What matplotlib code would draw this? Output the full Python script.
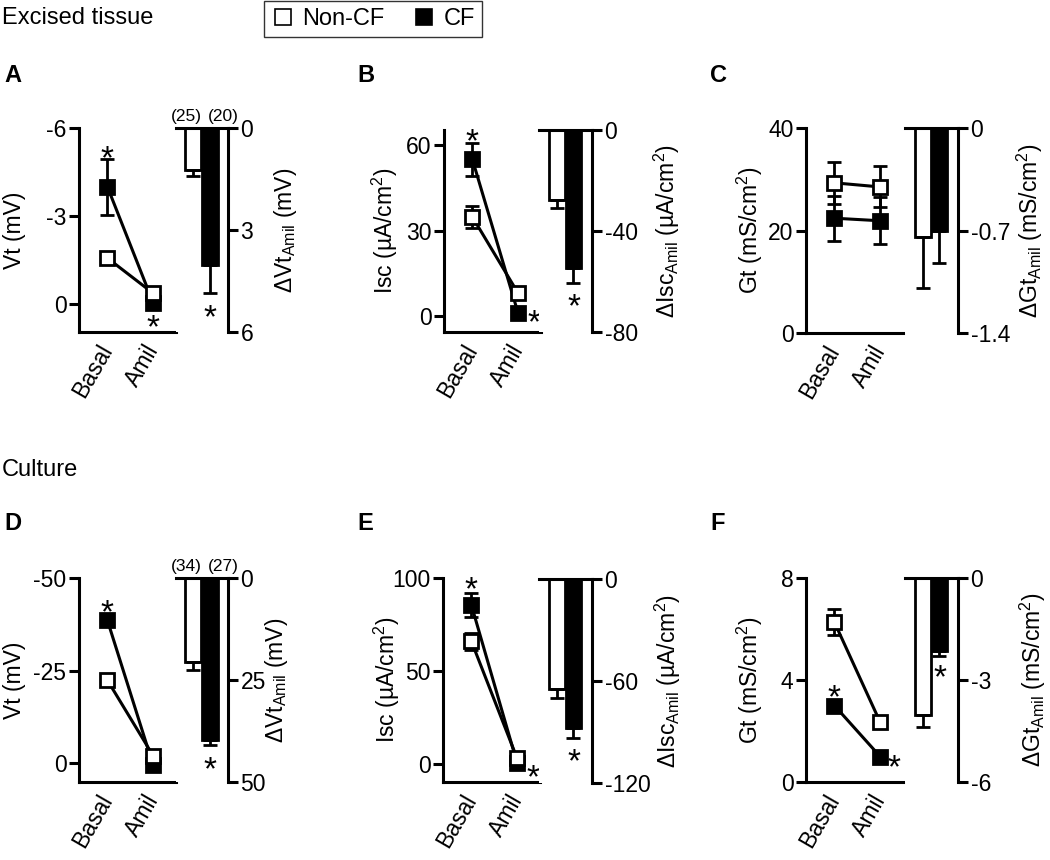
import matplotlib
matplotlib.use('Agg')
import matplotlib.pyplot as plt
from matplotlib.lines import Line2D
from matplotlib.transforms import ScaledTranslation

plt.rcParams['font.family'] = ['Liberation Sans', 'DejaVu Sans']
plt.rcParams['mathtext.default'] = 'regular'
plt.rcParams['axes.unicode_minus'] = False

conditions = ['Basal', 'Amil']
groups = ['Non-CF', 'CF']

# Excised tissue
vt_tissue_noncf = [-1.57, -0.37]
vt_tissue_noncf_err = [0.12, 0.08]
vt_tissue_cf = [-4.0, -0.05]
vt_tissue_cf_err = [0.95, 0.1]
dvt_tissue = [1.24, 4.03]
dvt_tissue_err = [0.17, 0.82]
n_tissue = ['(25)', '(20)']

isc_tissue_noncf = [34.8, 8.0]
isc_tissue_noncf_err = [3.9, 1.0]
isc_tissue_cf = [55.0, 1.0]
isc_tissue_cf_err = [5.7, 0.5]
disc_tissue = [-27.7, -54.7]
disc_tissue_err = [3.3, 5.8]

gt_tissue_noncf = [29.3, 28.5]
gt_tissue_noncf_err = [4.1, 4.0]
gt_tissue_cf = [22.4, 21.9]
gt_tissue_cf_err = [4.4, 4.6]
dgt_tissue = [-0.745, -0.703]
dgt_tissue_err = [0.345, 0.22]

# Culture
vt_culture_noncf = [-22.4, -2.0]
vt_culture_noncf_err = [1.0, 0.5]
vt_culture_cf = [-38.6, 0.5]
vt_culture_cf_err = [1.5, 0.5]
dvt_culture = [20.6, 39.7]
dvt_culture_err = [1.9, 1.3]
n_culture = ['(34)', '(27)']

isc_culture_noncf = [66.0, 3.0]
isc_culture_noncf_err = [4.5, 0.5]
isc_culture_cf = [85.5, 0.5]
isc_culture_cf_err = [6.5, 0.5]
disc_culture = [-64.7, -87.6]
disc_culture_err = [5.3, 5.9]

gt_culture_noncf = [6.27, 2.35]
gt_culture_noncf_err = [0.5, 0.1]
gt_culture_cf = [3.0, 1.0]
gt_culture_cf_err = [0.1, 0.05]
dgt_culture = [-4.03, -2.15]
dgt_culture_err = [0.35, 0.15]

W, H = 1050, 860
fig = plt.figure(figsize=(W / 100, H / 100), dpi=100)
FS = 16.5
LW = 2.2
STAR_FS = 24


def box(left, top, right, bottom):
    return [left / W, 1 - bottom / H, (right - left) / W, (bottom - top) / H]


def star(ax, x, y):
    # shift so the asterisk ink (not the text box) is centred on (x, y)
    shift = ScaledTranslation(0, -0.58 * STAR_FS / 72, fig.dpi_scale_trans)
    ax.text(x, y, '*', ha='center', va='baseline', fontsize=STAR_FS,
            transform=ax.transData + shift, clip_on=False)


def line_panel(rect, ylim, yticks, ylabel, labx, noncf, noncf_err, cf, cf_err, stars):
    ax = fig.add_axes(box(*rect))
    x = [0, 1]
    common = dict(color='black', lw=LW, marker='s', ms=10, mec='black', mew=2,
                  capsize=5, capthick=2, elinewidth=2)
    ax.errorbar(x, cf, yerr=cf_err, mfc='black', zorder=3, **common)
    ax.errorbar(x, noncf, yerr=noncf_err, mfc='white', zorder=4, **common)
    ax.set_xlim(-0.62, 1.5)
    ax.set_ylim(*ylim)
    ax.set_yticks(yticks)
    ax.set_yticklabels([str(t) for t in yticks])
    ax.set_xticks(x)
    ax.set_xticklabels(conditions, rotation=60, ha='right', va='center',
                       rotation_mode='anchor')
    for s in ['top', 'right']:
        ax.spines[s].set_visible(False)
    for s in ['left', 'bottom']:
        ax.spines[s].set_linewidth(LW)
    ax.tick_params(axis='y', direction='out', length=7, width=LW, labelsize=FS, pad=2)
    ax.tick_params(axis='x', length=0, labelsize=FS, pad=10)
    ax.set_ylabel(ylabel, fontsize=FS)
    ax.yaxis.label.set_verticalalignment('center')
    ax.yaxis.set_label_coords(labx, 0.5)
    for sx, sy in stars:
        star(ax, sx, sy)
    return ax


def bar_panel(rect, ylim, yticks, yticklabels, ylabel, labx, vals, errs, stars, counts=None):
    ax = fig.add_axes(box(*rect))
    x = [0, 1]
    ax.bar(x, vals, width=0.95, color=['white', 'black'], edgecolor='black', lw=2, zorder=2)
    lower = [e if v < 0 else 0 for v, e in zip(vals, errs)]
    upper = [e if v > 0 else 0 for v, e in zip(vals, errs)]
    ax.errorbar(x, vals, yerr=[lower, upper], fmt='none', ecolor='black',
                elinewidth=2, capsize=5, capthick=2, zorder=3)
    ax.set_xlim(-1.05, 2.1)
    ax.set_ylim(*ylim)
    ax.set_yticks(yticks)
    ax.set_yticklabels(yticklabels)
    ax.set_xticks([])
    ax.spines['left'].set_visible(False)
    ax.spines['bottom'].set_visible(False)
    ax.spines['top'].set_linewidth(LW)
    ax.spines['right'].set_linewidth(LW)
    ax.yaxis.tick_right()
    ax.yaxis.set_label_position('right')
    ax.tick_params(axis='y', direction='out', length=7, width=LW, labelsize=FS, pad=2)
    ax.set_ylabel(ylabel, fontsize=FS)
    ax.yaxis.label.set_verticalalignment('center')
    ax.yaxis.set_label_coords(labx, 0.5)
    for sx, sy in stars:
        star(ax, sx, sy)
    if counts:
        for cx, c in zip([-0.45, 1.8], counts):
            ax.text(cx, 1.02, c, transform=ax.get_xaxis_transform(), ha='center',
                    va='bottom', fontsize=12.5, clip_on=False)
    return ax


# Row 1: excised tissue
line_panel((79, 128, 176, 332), (0.95, -6), [-6, -3, 0], 'Vt (mV)', -0.66,
           vt_tissue_noncf, vt_tissue_noncf_err, vt_tissue_cf, vt_tissue_cf_err,
           [(0, -5.3), (1, 0.48)])
bar_panel((176, 128, 228, 332), (6, 0), [0, 3, 6], ['0', '3', '6'],
          'ΔVt$_{Amil}$ (mV)', 2.1, dvt_tissue, dvt_tissue_err, [(1, 5.3)], n_tissue)

line_panel((444, 130, 541, 332), (-5.6, 65.3), [0, 30, 60], 'Isc (µA/cm$^2$)', -0.61,
           isc_tissue_noncf, isc_tissue_noncf_err, isc_tissue_cf, isc_tissue_cf_err,
           [(0, 64.5), (1.35, 1)])
bar_panel((539, 130, 592, 332), (-80, 0), [0, -40, -80], ['0', '-40', '-80'],
          'ΔIsc$_{Amil}$ (µA/cm$^2$)', 2.42, disc_tissue, disc_tissue_err, [(1, -66)])

line_panel((806, 128, 903, 333), (0, 40), [0, 20, 40], 'Gt (mS/cm$^2$)', -0.58,
           gt_tissue_noncf, gt_tissue_noncf_err, gt_tissue_cf, gt_tissue_cf_err, [])
bar_panel((905, 128, 958, 333), (-1.4, 0), [0, -0.7, -1.4], ['0', '-0.7', '-1.4'],
          'ΔGt$_{Amil}$ (mS/cm$^2$)', 2.36, dgt_tissue, dgt_tissue_err, [])

# Row 2: culture
line_panel((79, 578, 176, 782), (5.1, -50), [-50, -25, 0], 'Vt (mV)', -0.66,
           vt_culture_noncf, vt_culture_noncf_err, vt_culture_cf, vt_culture_cf_err,
           [(0, -43.2)])
bar_panel((176, 578, 228, 782), (50, 0), [0, 25, 50], ['0', '25', '50'],
          'ΔVt$_{Amil}$ (mV)', 1.94, dvt_culture, dvt_culture_err, [(1, 44.6)], n_culture)

line_panel((443, 578, 540, 782), (-9.7, 100), [0, 50, 100], 'Isc (µA/cm$^2$)', -0.58,
           isc_culture_noncf, isc_culture_noncf_err, isc_culture_cf, isc_culture_cf_err,
           [(0, 99), (1.34, -2)])
bar_panel((539, 579, 592, 783), (-120, 0), [0, -60, -120], ['0', '-60', '-120'],
          'ΔIsc$_{Amil}$ (µA/cm$^2$)', 2.43, disc_culture, disc_culture_err, [(1, -102)])

line_panel((806, 578, 903, 782), (0, 8), [0, 4, 8], 'Gt (mS/cm$^2$)', -0.58,
           gt_culture_noncf, gt_culture_noncf_err, gt_culture_cf, gt_culture_cf_err,
           [(0, 3.7), (1.31, 0.94)])
bar_panel((905, 578, 958, 782), (-6, 0), [0, -3, -6], ['0', '-3', '-6'],
          'ΔGt$_{Amil}$ (mS/cm$^2$)', 2.42, dgt_culture, dgt_culture_err, [(1, -2.65)])

# Headers and panel letters
fig.text(2 / W, 1 - 18 / H, 'Excised tissue', fontsize=17, va='center')
fig.text(2 / W, 1 - 470 / H, 'Culture', fontsize=17, va='center')
for letter, px, py in [('A', 4, 75), ('B', 357, 75), ('C', 710, 75),
                       ('D', 4, 523), ('E', 357, 523), ('F', 710, 523)]:
    fig.text(px / W, 1 - py / H, letter, fontsize=17, fontweight='bold', va='center')

handles = [Line2D([], [], marker='s', ls='none', mfc='white', mec='black', ms=12, mew=1.2),
           Line2D([], [], marker='s', ls='none', mfc='black', mec='black', ms=12, mew=1.2)]
leg = fig.legend(handles, groups, loc='center', bbox_to_anchor=(373 / W, 1 - 19 / H),
                 ncol=2, frameon=True, fancybox=False, edgecolor='black', fontsize=17,
                 handletextpad=0.3, columnspacing=1.2, borderpad=0.3, handlelength=1)
leg.get_frame().set_linewidth(1)

fig.savefig('out.png', dpi=100)
